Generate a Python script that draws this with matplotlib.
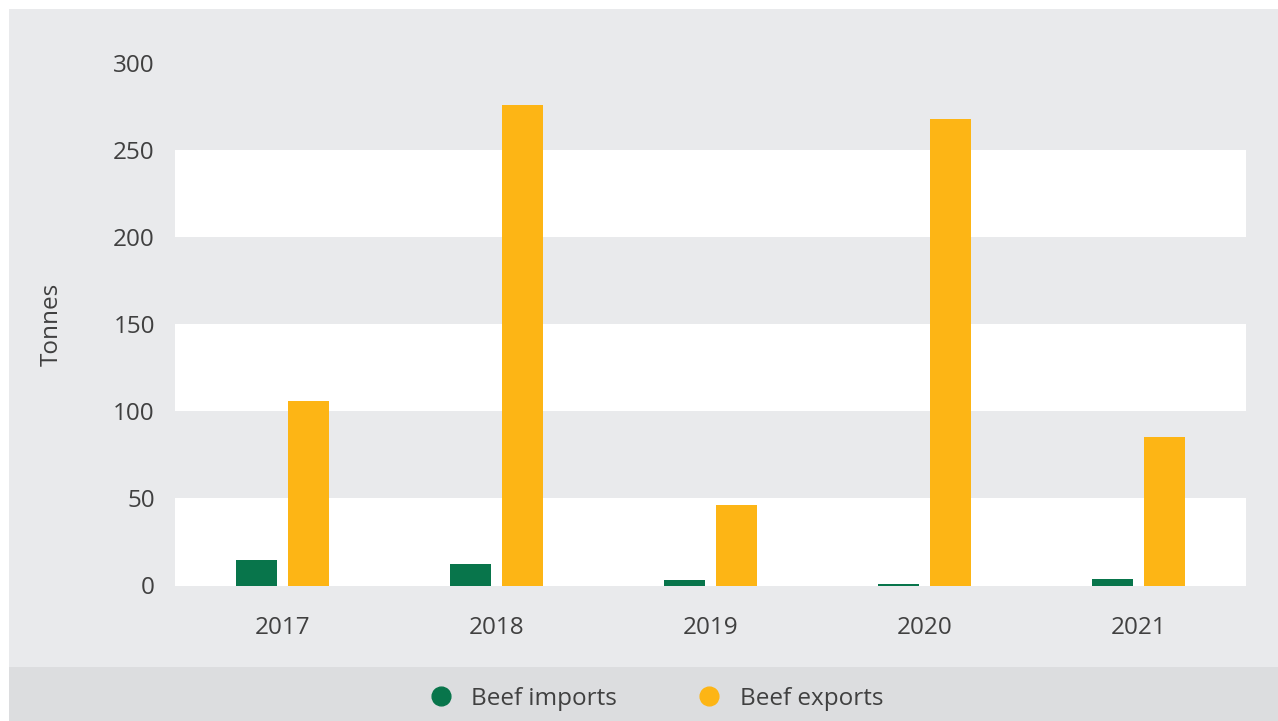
import matplotlib
matplotlib.use("Agg")
import matplotlib.pyplot as plt
from matplotlib.lines import Line2D
from matplotlib.patches import Rectangle
import numpy as np

years = ["2017", "2018", "2019", "2020", "2021"]
beef_imports = [14.5, 12.5, 3, 1, 4]
beef_exports = [106, 276, 46, 268, 85]
y_ticks = [0, 50, 100, 150, 200, 250, 300]

GREEN = "#08754b"
GOLD = "#fdb515"
BG = "#e9eaec"
STRIP = "#dcdddf"
TXT = "#404040"
FS = 17.5

plt.rcParams['font.family'] = ['Open Sans', 'DejaVu Sans']

W, H = 1278, 721
fig = plt.figure(figsize=(W / 100, H / 100), dpi=100, facecolor="white")

# grey panel with white margin at top/left
fig.patches.append(Rectangle((9 / W, 0), 1 - 9 / W, 1 - 9 / H, transform=fig.transFigure,
                             facecolor=BG, edgecolor="none", zorder=-10))
fig.patches.append(Rectangle((9 / W, 0), 1 - 9 / W, 54 / H, transform=fig.transFigure,
                             facecolor=STRIP, edgecolor="none", zorder=-9))

ax = fig.add_axes([175 / W, (H - 585.5) / H, (1246 - 175) / W, (585.5 - 63) / H])
ax.set_facecolor(BG)
ax.patch.set_alpha(0)

for lo in (0, 100, 200):
    ax.axhspan(lo, lo + 50, facecolor="white", edgecolor="none", zorder=0)

x = np.arange(len(years))
bw = 41 / 214.2
gap = 11 / 214.2
ax.bar(x - (bw + gap) / 2, beef_imports, width=bw, color=GREEN, zorder=2)
ax.bar(x + (bw + gap) / 2, beef_exports, width=bw, color=GOLD, zorder=2)

ax.set_xlim(-0.5, len(years) - 0.5)
ax.set_ylim(0, 300)
ax.set_yticks(y_ticks)
ax.set_yticklabels([str(t) for t in y_ticks])
ax.set_xticks(x)
ax.set_xticklabels(years)
ax.tick_params(axis="y", length=0, pad=14.5, labelsize=FS, labelcolor=TXT)
ax.tick_params(axis="x", length=0, pad=22, labelsize=FS, labelcolor=TXT)
for s in ax.spines.values():
    s.set_visible(False)

fig.text(52 / W, (H - 324) / H, "Tonnes", rotation=90, ha="center", va="center",
         fontsize=FS, color=TXT)

handles = [
    Line2D([], [], marker="o", linestyle="none", markersize=13.5, markerfacecolor=GREEN,
           markeredgecolor=GREEN, label="Beef imports"),
    Line2D([], [], marker="o", linestyle="none", markersize=13.5, markerfacecolor=GOLD,
           markeredgecolor=GOLD, label="Beef exports"),
]
leg = fig.legend(handles=handles, loc="center", bbox_to_anchor=(656 / W, 22 / H),
                 ncol=2, frameon=False, fontsize=FS, columnspacing=3.3,
                 handletextpad=0.75, handlelength=1.0)
for t in leg.get_texts():
    t.set_color(TXT)

fig.savefig("out.png", dpi=100, facecolor="white")
